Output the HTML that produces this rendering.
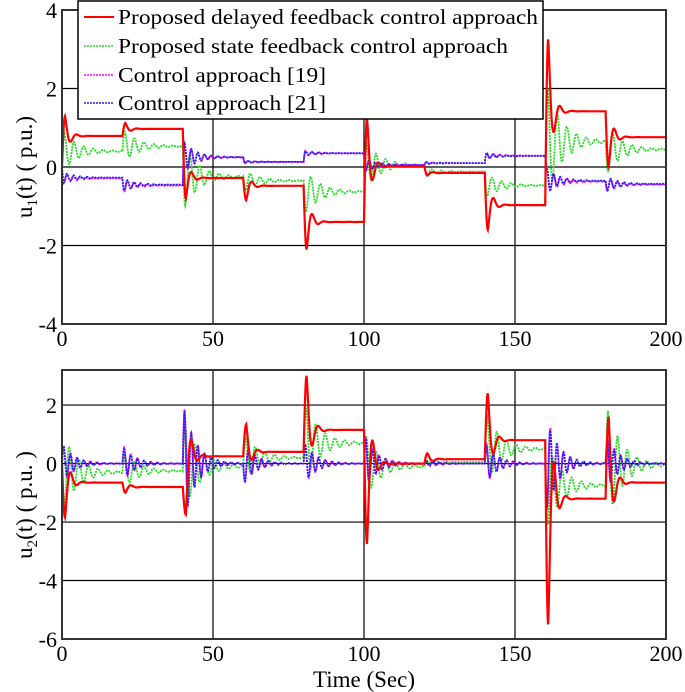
<!DOCTYPE html>
<html><head><meta charset="utf-8"><style>
html,body{margin:0;padding:0;background:#fff}
svg{display:block}
text{font-family:"Liberation Serif",serif;fill:#000}
</style></head><body>
<svg id="chart" width="685" height="692" viewBox="0 0 685 692" xmlns="http://www.w3.org/2000/svg">
<g id="top"></g>
<g id="bot"></g>
<g id="legend">
<rect x="78" y="1" width="465" height="118" fill="#fff" stroke="#000" stroke-width="1.5"/>
<g><line x1="84" y1="17" x2="114" y2="17" stroke="#f00" stroke-width="2"/><text x="118" y="24" font-size="21.5" textLength="420" lengthAdjust="spacingAndGlyphs">Proposed delayed feedback control approach</text></g>
<g><line x1="84" y1="46" x2="114" y2="46" stroke="#2d2" stroke-width="1.6" stroke-dasharray="2,1"/><text x="118" y="53" font-size="21.5" textLength="390" lengthAdjust="spacingAndGlyphs">Proposed state feedback control approach</text></g>
<g><line x1="84" y1="75" x2="114" y2="75" stroke="#f0f" stroke-width="1.6" stroke-dasharray="2,1"/><text x="118" y="82" font-size="21.5" textLength="208" lengthAdjust="spacingAndGlyphs">Control approach [19]</text></g>
<g><line x1="84" y1="103" x2="114" y2="103" stroke="#22e" stroke-width="1.6" stroke-dasharray="2,1"/><text x="118" y="110" font-size="21.5" textLength="208" lengthAdjust="spacingAndGlyphs">Control approach [21]</text></g>
</g>
</svg>
<script>
const segStart=[0,20,40,60,80,100,120,140,160,180];
const xTicks=[0,50,100,150,200];
const u1Ticks=[-4,-2,0,2,4];
const u2Ticks=[-6,-4,-2,0,2];
const u1RedLevels=[0.79,0.97,-0.28,-0.48,-1.4,0.02,-0.15,-0.97,1.42,0.76];
const u1RedPeaks=[1.3,1.12,-0.8,-0.85,-2.1,1.25,-0.22,-1.6,3.25,0.0];
const u1GreenLevels=[0.4,0.53,-0.25,-0.35,-0.63,0.05,-0.12,-0.47,0.65,0.45];
const u1GreenPeaks=[0.85,0.9,-1.0,-0.6,-1.15,0.6,-0.2,-0.75,2.0,-0.1];
const u1MagLevels=[-0.29,-0.47,0.25,0.13,0.35,0.05,0.1,0.29,-0.37,-0.45];
const u1MagPeaks=[-0.42,-0.62,0.62,0.1,0.42,-0.12,0.13,0.37,-0.05,-0.62];
const u1BlueLevels=[-0.27,-0.45,0.25,0.13,0.35,0.05,0.1,0.28,-0.35,-0.43];
const u1BluePeaks=[-0.4,-0.6,0.6,0.1,0.4,-0.1,0.12,0.35,-0.05,-0.6];
const u2RedLevels=[-0.65,-0.8,0.25,0.4,1.15,0.0,0.15,0.8,-1.2,-0.65];
const u2RedPeaks=[-1.85,-1.0,-1.75,1.35,3.0,-2.75,0.35,2.4,-5.5,1.6];
const u2GreenLevels=[-0.3,-0.25,-0.1,0.2,0.7,-0.1,0.05,0.5,-0.75,-0.05];
const u2GreenPeaks=[-1.5,0.3,1.3,0.9,1.9,0.9,0.1,1.6,-2.1,1.8];
const u2MagLevels=[0,0,0,0,0,0,0,0,0,0];
const u2MagPeaks=[0.6,0.55,1.85,-0.65,0.65,0.85,0.12,0.65,-1.6,0.85];
const u2BlueLevels=[0,0,0,0,0,0,0,0,0,0];
const u2BluePeaks=[0.55,0.5,1.8,-0.6,0.6,0.8,0.1,0.6,-1.5,0.8];

const NS="http://www.w3.org/2000/svg";
const X0=62,X1=666;
const xs=v=>X0+(v-0)/(200-0)*(X1-X0);
function mk(tag,attrs,parent){const e=document.createElementNS(NS,tag);for(const k in attrs)e.setAttribute(k,attrs[k]);parent.appendChild(e);return e;}

function series(levels,peaks,period,decay,rise){
  const pts=[];
  for(let i=0;i<=2000;i++){
    const t=i*0.1;
    let k=0;for(let j=0;j<segStart.length;j++)if(t>=segStart[j])k=j;
    const tau=t-segStart[k];
    const prev=k>0?levels[k-1]:0;
    let y;
    if(tau<rise)y=prev+(peaks[k]-prev)*Math.sin(Math.PI/2*tau/rise);
    else y=levels[k]+(peaks[k]-levels[k])*Math.exp(-(tau-rise)/decay)*Math.cos(2*Math.PI*(tau-rise)/period);
    pts.push([t,y]);
  }
  return pts;
}

function panel(g,ymin,ymax,Y0,Y1,ticks,defs,label,ylabelY){
  const ys=v=>Y1-(v-ymin)/(ymax-ymin)*(Y1-Y0);
  ticks.forEach(v=>{
    const l=mk('line',{x1:X0,x2:X1,y1:ys(v),y2:ys(v),stroke:'#000','stroke-width':1.2},g);
    
    
    const t=mk('text',{x:X0-5,y:ys(v)+8,'font-size':22,'text-anchor':'end'},g);
    t.textContent=v;
    
    
  });
  xTicks.forEach(v=>{
    const l=mk('line',{x1:xs(v),x2:xs(v),y1:Y0,y2:Y1,stroke:'#000','stroke-width':1.2},g);
    
    
    const t=mk('text',{x:xs(v),y:Y1+22,'font-size':22,'text-anchor':'middle'},g);
    t.textContent=v;
    
    
  });
  defs.forEach(d=>{
    const pts=series(d.lv,d.pk,d.per,d.dec,d.rise);
    const p=mk('path',{d:pts.map((q,i)=>(i?'L':'M')+xs(q[0]).toFixed(1)+','+ys(Math.max(ymin,Math.min(ymax,q[1]))).toFixed(1)).join(''),fill:'none',stroke:d.c,'stroke-width':d.w,'stroke-dasharray':d.da||'none'},g);
    
    
  });
  const f=mk('rect',{x:X0,y:Y0,width:X1-X0,height:Y1-Y0,fill:'none',stroke:'#333','stroke-width':2},g);
  
  
  const yl=mk('text',{x:0,y:0,'font-size':23,'text-anchor':'middle',transform:'translate(32,'+ylabelY+') rotate(-90)'},g);
  yl.innerHTML=label;
  
  
}
panel(document.getElementById('top'),-4,4,10,324,u1Ticks,[
 {lv:u1GreenLevels,pk:u1GreenPeaks,per:3.2,dec:5,rise:0.8,c:'#2d2',w:1.8,da:'2,1',name:'u1-state-feedback-line'},
 {lv:u1MagLevels,pk:u1MagPeaks,per:2.2,dec:4,rise:0.6,c:'#f0f',w:1.8,da:'2,1',name:'u1-ref19-line'},
 {lv:u1BlueLevels,pk:u1BluePeaks,per:2.2,dec:4,rise:0.6,c:'#22e',w:1.8,da:'2,1',name:'u1-ref21-line'},
 {lv:u1RedLevels,pk:u1RedPeaks,per:4,dec:1.5,rise:1,c:'#f00',w:2.2,name:'u1-delayed-feedback-line'}
],'u<tspan font-size="15" dy="5">1</tspan><tspan dy="-5">(t) ( p.u.)</tspan>',167);
panel(document.getElementById('bot'),-6,3.2,370,639,u2Ticks,[
 {lv:u2GreenLevels,pk:u2GreenPeaks,per:3.2,dec:5,rise:0.8,c:'#2d2',w:1.8,da:'2,1',name:'u2-state-feedback-line'},
 {lv:u2MagLevels,pk:u2MagPeaks,per:2.2,dec:4,rise:0.6,c:'#f0f',w:1.8,da:'2,1',name:'u2-ref19-line'},
 {lv:u2BlueLevels,pk:u2BluePeaks,per:2.2,dec:4,rise:0.6,c:'#22e',w:1.8,da:'2,1',name:'u2-ref21-line'},
 {lv:u2RedLevels,pk:u2RedPeaks,per:4,dec:1.5,rise:1,c:'#f00',w:2.2,name:'u2-delayed-feedback-line'}
],'u<tspan font-size="15" dy="5">2</tspan><tspan dy="-5">(t) ( p.u. )</tspan>',505);
const xt=mk('text',{x:364,y:687,'font-size':23,'text-anchor':'middle'},document.getElementById('chart'));
xt.textContent='Time (Sec)';


document.getElementById('chart').appendChild(document.getElementById('legend'));
</script>
</body></html>
